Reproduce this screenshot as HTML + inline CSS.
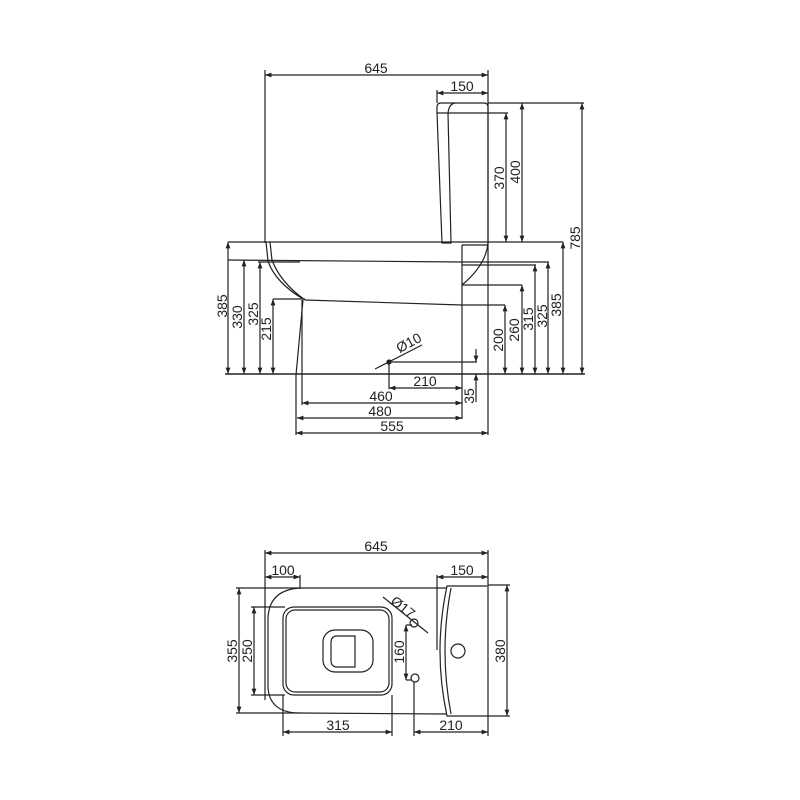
<!DOCTYPE html>
<html><head><meta charset="utf-8"><style>
html,body{margin:0;padding:0;background:#fff}
svg{display:block}
text{font-family:"Liberation Sans",sans-serif;font-size:14px;fill:#222}
</style></head><body>
<svg width="800" height="800" viewBox="0 0 800 800" xmlns="http://www.w3.org/2000/svg">
<defs>
<marker id="a" viewBox="0 0 8 6" refX="8" refY="3" markerWidth="6" markerHeight="4" orient="auto-start-reverse"><path d="M0,0 L8,3 L0,6 z" fill="#222"/></marker>
</defs>
<g stroke="#222" stroke-width="1.2" fill="none">
<!-- TOP VIEW -->
<line x1="265" y1="75" x2="488" y2="75" marker-start="url(#a)" marker-end="url(#a)"/>
<line x1="265" y1="70" x2="265" y2="243"/>
<line x1="488" y1="70" x2="488" y2="435"/>
<line x1="437" y1="93" x2="488" y2="93" marker-start="url(#a)" marker-end="url(#a)"/>
<line x1="437" y1="90" x2="437" y2="103"/>
<path d="M437,107 Q437,103 441,103 L484,103 Q488,103 488,107 L488,243"/>
<path d="M437,107 L437,113 L442,243 L451,243 L448,113 Q449,104 455,103"/>
<line x1="437" y1="113" x2="488" y2="113"/>
<line x1="228" y1="242" x2="563" y2="242"/>
<path d="M266,242 L268,261 Q275,282 303,299"/>
<path d="M270,242 L272,260 Q280,282 305,300"/>
<path d="M488,243 Q486,265 462,285"/>
<line x1="462" y1="245" x2="462" y2="419"/>
<line x1="462" y1="245" x2="488" y2="245"/>
<line x1="228" y1="260" x2="462" y2="262"/>
<line x1="462" y1="262" x2="549" y2="262"/>
<line x1="258" y1="262" x2="300" y2="262"/>
<line x1="462" y1="265" x2="536" y2="265"/>
<line x1="462" y1="285" x2="522" y2="285"/>
<line x1="273" y1="299" x2="305" y2="299"/>
<line x1="305" y1="300" x2="462" y2="305"/>
<line x1="462" y1="305" x2="505" y2="305"/>
<path d="M303,300 L296,375 L296,435"/>
<line x1="302" y1="300" x2="302" y2="405"/>
<line x1="225" y1="374" x2="585" y2="374" stroke-width="1.5"/>
<line x1="488" y1="103" x2="584" y2="103"/>
<line x1="488" y1="113" x2="508" y2="113"/>
<line x1="506" y1="113" x2="506" y2="242" marker-start="url(#a)" marker-end="url(#a)"/>
<line x1="522" y1="103" x2="522" y2="242" marker-start="url(#a)" marker-end="url(#a)"/>
<line x1="582" y1="103" x2="582" y2="374" marker-start="url(#a)" marker-end="url(#a)"/>
<line x1="505" y1="305" x2="505" y2="374" marker-start="url(#a)" marker-end="url(#a)"/>
<line x1="522" y1="285" x2="522" y2="374" marker-start="url(#a)" marker-end="url(#a)"/>
<line x1="535" y1="265" x2="535" y2="374" marker-start="url(#a)" marker-end="url(#a)"/>
<line x1="548" y1="262" x2="548" y2="374" marker-start="url(#a)" marker-end="url(#a)"/>
<line x1="563" y1="242" x2="563" y2="374" marker-start="url(#a)" marker-end="url(#a)"/>
<line x1="228" y1="242" x2="228" y2="374" marker-start="url(#a)" marker-end="url(#a)"/>
<line x1="244" y1="260" x2="244" y2="374" marker-start="url(#a)" marker-end="url(#a)"/>
<line x1="260" y1="262" x2="260" y2="374" marker-start="url(#a)" marker-end="url(#a)"/>
<line x1="273" y1="299" x2="273" y2="374" marker-start="url(#a)" marker-end="url(#a)"/>
<circle cx="389" cy="362" r="2" fill="#222"/>
<line x1="375" y1="369" x2="422" y2="345"/>
<line x1="389" y1="362" x2="477" y2="362"/>
<line x1="389" y1="362" x2="389" y2="389"/>
<line x1="476" y1="349" x2="476" y2="362" marker-end="url(#a)"/>
<line x1="476" y1="402" x2="476" y2="374" marker-end="url(#a)"/>
<line x1="389" y1="388" x2="462" y2="388" marker-start="url(#a)" marker-end="url(#a)"/>
<line x1="302" y1="403" x2="462" y2="403" marker-start="url(#a)" marker-end="url(#a)"/>
<line x1="297" y1="418" x2="462" y2="418" marker-start="url(#a)" marker-end="url(#a)"/>
<line x1="296" y1="433" x2="488" y2="433" marker-start="url(#a)" marker-end="url(#a)"/>

<!-- BOTTOM VIEW -->
<line x1="265" y1="553" x2="488" y2="553" marker-start="url(#a)" marker-end="url(#a)"/>
<line x1="265" y1="550" x2="265" y2="700"/>
<line x1="488" y1="550" x2="488" y2="585"/>
<line x1="265" y1="577" x2="300" y2="577" marker-start="url(#a)" marker-end="url(#a)"/>
<line x1="300" y1="575" x2="300" y2="589"/>
<line x1="437" y1="577" x2="488" y2="577" marker-start="url(#a)" marker-end="url(#a)"/>
<line x1="437" y1="575" x2="437" y2="650"/>
<path d="M447,588 L300,588 Q268,590 268,620 L268,688 Q270,713 300,713 L447,714"/>
<path d="M447,586 L488,586 L488,716 L447,716 Q433,651 447,586 Z"/>
<path d="M451,588 Q439,651 451,714"/>
<circle cx="458" cy="651" r="7"/>
<rect x="283" y="607" width="109" height="88" rx="11"/>
<rect x="286" y="610" width="103" height="82" rx="9"/>
<rect x="323" y="630" width="50" height="42" rx="12"/>
<path d="M337,636 L355,636 L355,667 L337,667 Q331,667 331,660 L331,643 Q331,636 337,636 Z"/>
<circle cx="414" cy="623" r="4"/>
<circle cx="415" cy="678" r="4"/>
<line x1="383" y1="597" x2="428" y2="633"/>
<line x1="406" y1="625" x2="412" y2="625"/>
<line x1="406" y1="680" x2="412" y2="680"/>
<line x1="406" y1="625" x2="406" y2="680" marker-start="url(#a)" marker-end="url(#a)"/>
<line x1="488" y1="585" x2="510" y2="585"/>
<line x1="488" y1="716" x2="510" y2="716"/>
<line x1="507" y1="585" x2="507" y2="716" marker-start="url(#a)" marker-end="url(#a)"/>
<line x1="236" y1="588" x2="300" y2="588"/>
<line x1="236" y1="713" x2="300" y2="713"/>
<line x1="239" y1="588" x2="239" y2="713" marker-start="url(#a)" marker-end="url(#a)"/>
<line x1="251" y1="607" x2="285" y2="607"/>
<line x1="251" y1="695" x2="285" y2="695"/>
<line x1="254" y1="607" x2="254" y2="695" marker-start="url(#a)" marker-end="url(#a)"/>
<line x1="283" y1="695" x2="283" y2="736"/>
<line x1="392" y1="695" x2="392" y2="736"/>
<line x1="283" y1="732" x2="392" y2="732" marker-start="url(#a)" marker-end="url(#a)"/>
<line x1="414" y1="682" x2="414" y2="736"/>
<line x1="488" y1="716" x2="488" y2="736"/>
<line x1="414" y1="732" x2="488" y2="732" marker-start="url(#a)" marker-end="url(#a)"/>
</g>
<g>
<text x="376" y="73" text-anchor="middle">645</text>
<text x="462" y="91" text-anchor="middle">150</text>
<text transform="translate(504,178) rotate(-90)" text-anchor="middle">370</text>
<text transform="translate(520,172) rotate(-90)" text-anchor="middle">400</text>
<text transform="translate(580,238) rotate(-90)" text-anchor="middle">785</text>
<text transform="translate(503,340) rotate(-90)" text-anchor="middle">200</text>
<text transform="translate(519,330) rotate(-90)" text-anchor="middle">260</text>
<text transform="translate(533,319) rotate(-90)" text-anchor="middle">315</text>
<text transform="translate(547,316) rotate(-90)" text-anchor="middle">325</text>
<text transform="translate(561,305) rotate(-90)" text-anchor="middle">385</text>
<text transform="translate(227,306) rotate(-90)" text-anchor="middle">385</text>
<text transform="translate(242,317) rotate(-90)" text-anchor="middle">330</text>
<text transform="translate(258,314) rotate(-90)" text-anchor="middle">325</text>
<text transform="translate(271,329) rotate(-90)" text-anchor="middle">215</text>
<text transform="translate(411,347) rotate(-28)" text-anchor="middle">Ø10</text>
<text x="425" y="386" text-anchor="middle">210</text>
<text x="381" y="401" text-anchor="middle">460</text>
<text x="380" y="416" text-anchor="middle">480</text>
<text x="392" y="431" text-anchor="middle">555</text>
<text transform="translate(474,396) rotate(-90)" text-anchor="middle">35</text>
<text x="376" y="551" text-anchor="middle">645</text>
<text x="283" y="575" text-anchor="middle">100</text>
<text x="462" y="575" text-anchor="middle">150</text>
<text transform="translate(400,611) rotate(38)" text-anchor="middle">Ø17</text>
<text transform="translate(404,652) rotate(-90)" text-anchor="middle">160</text>
<text transform="translate(505,651) rotate(-90)" text-anchor="middle">380</text>
<text transform="translate(237,651) rotate(-90)" text-anchor="middle">355</text>
<text transform="translate(252,651) rotate(-90)" text-anchor="middle">250</text>
<text x="338" y="730" text-anchor="middle">315</text>
<text x="451" y="730" text-anchor="middle">210</text>
</g>
</svg>
</body></html>
